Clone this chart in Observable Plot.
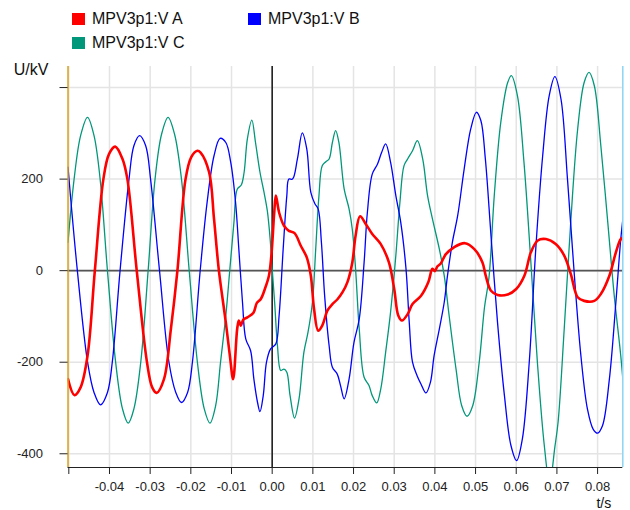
<!DOCTYPE html>
<html><head><meta charset="utf-8">
<script src="https://cdn.jsdelivr.net/npm/d3@7"></script>
<script src="https://cdn.jsdelivr.net/npm/@observablehq/plot@0.6"></script>
<style>
body{margin:0;background:#fff;font-family:"Liberation Sans",Arial,sans-serif;}
#wrap{position:relative;width:630px;height:510px;overflow:hidden;background:#fff}
#legend{position:relative;height:52px;width:630px}
.item{position:absolute;display:flex;align-items:center;height:18px;line-height:18px;font-size:16px;color:#111;white-space:nowrap}
.sw{width:13px;height:12px;margin-right:7px}
#chart svg{display:block}
</style></head>
<body><div id="wrap"><div id="legend"></div><div id="chart"></div></div>
<script>
// ---- data (time in s, voltage in kV) ----
const seriesNames = ["MPV3p1:V A", "MPV3p1:V B", "MPV3p1:V C"];
const seriesColors = ["#ff0000", "#0000ff", "#00977a"];

const phaseA = [
[-0.0502,-237],[-0.0486,-272],[-0.0471,-255],[-0.0454,-186],[-0.0436,0],[-0.0415,200],[-0.0401,255],[-0.0386,271],
[-0.0368,244],[-0.0356,200],[-0.0333,0],[-0.0308,-199],[-0.0295,-255],[-0.0284,-267],[-0.0266,-237],[-0.0249,-127],
[-0.0233,0],[-0.0213,200],[-0.0199,248],[-0.0184,262],[-0.0176,258],[-0.0155,215],[-0.0143,113],[-0.0131,0],
[-0.0114,-113],[-0.0104,-186],[-0.0096,-237],[-0.0086,-127],[-0.0082,-109],[-0.0077,-120],[-0.0071,-107],[-0.0061,-102],
[-0.0046,-92],[-0.0038,-71],[-0.0028,-62],[-0.0018,-40],[-0.0008,-11],[-0.0002,33],[0.0005,127],[0.0009,164],
[0.0017,127],[0.0029,98],[0.0041,87],[0.0055,82],[0.0070,55],[0.0085,29],[0.0095,-11],[0.0103,-84],
[0.0113,-131],[0.0123,-120],[0.0136,-87],[0.0148,-73],[0.0160,-63],[0.0173,-47],[0.0185,-25],[0.0197,18],
[0.0205,76],[0.0216,119],[0.0230,102],[0.0246,80],[0.0267,58],[0.0287,18],[0.0300,-40],[0.0310,-98],
[0.0319,-109],[0.0333,-95],[0.0345,-73],[0.0366,-55],[0.0384,-25],[0.0394,4],[0.0400,-1],[0.0406,9],
[0.0414,15],[0.0427,36],[0.0447,51],[0.0474,60],[0.0497,47],[0.0517,18],[0.0525,-11],[0.0538,-44],
[0.0554,-53],[0.0579,-52],[0.0600,-40],[0.0620,-11],[0.0636,40],[0.0653,66],[0.0673,69],[0.0697,58],
[0.0718,33],[0.0734,-7],[0.0751,-58],[0.0767,-66],[0.0792,-66],[0.0808,-51],[0.0829,-11],[0.0845,40],
[0.0857,69],[0.0864,73]
];

const phaseB = [
[-0.0502,226],[-0.0479,0],[-0.0454,-199],[-0.0438,-266],[-0.0422,-293],[-0.0405,-266],[-0.0393,-199],[-0.0374,0],
[-0.0352,200],[-0.0340,273],[-0.0326,295],[-0.0311,273],[-0.0299,200],[-0.0277,0],[-0.0254,-199],[-0.0237,-266],
[-0.0223,-288],[-0.0208,-266],[-0.0196,-199],[-0.0177,0],[-0.0160,149],[-0.0143,251],[-0.0128,289],[-0.0114,280],
[-0.0102,237],[-0.0090,149],[-0.0082,47],[-0.0073,-69],[-0.0065,-149],[-0.0053,-175],[-0.0045,-237],[-0.0036,-288],
[-0.0030,-308],[-0.0022,-273],[-0.0014,-200],[-0.0004,-171],[0.0009,-160],[0.0017,-98],[0.0027,47],[0.0036,164],
[0.0041,200],[0.0050,200],[0.0062,244],[0.0074,301],[0.0085,266],[0.0095,171],[0.0105,146],[0.0113,135],
[0.0121,62],[0.0129,-55],[0.0140,-164],[0.0148,-211],[0.0160,-226],[0.0168,-251],[0.0177,-280],[0.0189,-237],
[0.0201,-157],[0.0214,-106],[0.0226,18],[0.0234,127],[0.0246,211],[0.0259,233],[0.0269,258],[0.0279,277],
[0.0291,237],[0.0304,164],[0.0316,106],[0.0329,4],[0.0337,-113],[0.0345,-200],[0.0356,-229],[0.0366,-248],
[0.0378,-267],[0.0389,-244],[0.0398,-186],[0.0411,-127],[0.0423,-69],[0.0431,-11],[0.0443,62],[0.0456,120],
[0.0472,222],[0.0488,309],[0.0502,346],[0.0513,328],[0.0524,245],[0.0538,76],[0.0554,-113],[0.0571,-273],
[0.0587,-382],[0.0601,-415],[0.0615,-368],[0.0632,-200],[0.0648,47],[0.0665,251],[0.0681,382],[0.0695,424],
[0.0710,375],[0.0726,200],[0.0743,-11],[0.0759,-186],[0.0775,-302],[0.0789,-346],[0.0800,-355],[0.0812,-339],
[0.0829,-237],[0.0845,-69],[0.0857,69],[0.0864,127]
];

const phaseC = [
[-0.0502,62],[-0.0487,200],[-0.0471,295],[-0.0454,335],[-0.0438,295],[-0.0423,200],[-0.0405,0],[-0.0385,-199],
[-0.0368,-302],[-0.0354,-333],[-0.0340,-302],[-0.0323,-199],[-0.0305,0],[-0.0288,200],[-0.0272,298],[-0.0256,335],
[-0.0240,298],[-0.0223,200],[-0.0204,0],[-0.0184,-199],[-0.0167,-302],[-0.0153,-333],[-0.0139,-295],[-0.0127,-200],
[-0.0114,-98],[-0.0104,4],[-0.0094,106],[-0.0086,178],[-0.0076,187],[-0.0069,215],[-0.0061,288],[-0.0050,329],
[-0.0041,280],[-0.0030,215],[-0.0020,171],[-0.0012,131],[-0.0005,69],[0.0000,4],[0.0006,-69],[0.0013,-164],
[0.0021,-218],[0.0029,-215],[0.0036,-222],[0.0044,-273],[0.0055,-322],[0.0066,-280],[0.0078,-178],[0.0088,-135],
[0.0099,-69],[0.0107,47],[0.0115,164],[0.0123,229],[0.0132,238],[0.0140,244],[0.0148,280],[0.0156,306],
[0.0164,280],[0.0177,178],[0.0189,135],[0.0197,90],[0.0205,4],[0.0214,-127],[0.0226,-233],[0.0238,-251],
[0.0246,-273],[0.0257,-289],[0.0267,-258],[0.0279,-178],[0.0291,-91],[0.0304,33],[0.0314,149],[0.0324,229],
[0.0333,244],[0.0345,262],[0.0357,284],[0.0370,244],[0.0382,164],[0.0394,113],[0.0411,47],[0.0423,-11],
[0.0435,-98],[0.0452,-215],[0.0466,-295],[0.0479,-318],[0.0493,-295],[0.0509,-200],[0.0522,-80],[0.0533,-15],
[0.0546,164],[0.0562,324],[0.0579,411],[0.0588,426],[0.0603,382],[0.0619,237],[0.0636,18],[0.0652,-200],
[0.0669,-382],[0.0682,-465],[0.0695,-385],[0.0703,-330],[0.0718,-127],[0.0734,106],[0.0751,309],[0.0767,411],
[0.0779,433],[0.0792,404],[0.0808,273],[0.0825,106],[0.0841,-55],[0.0857,-186],[0.0864,-258]
];

const xDomain = [-0.0502, 0.0862];
const yDomain = [-430, 446];
const xTicks = [-0.05,-0.04,-0.03,-0.02,-0.01,0,0.01,0.02,0.03,0.04,0.05,0.06,0.07,0.08];
const xTickLabels = ["","-0.04","-0.03","-0.02","-0.01","0.00","0.01","0.02","0.03","0.04","0.05","0.06","0.07","0.08"];
const yTicks = [-400,-200,0,200,400];
const yTickLabels = ["-400","-200","0","200",""];
const yTitle = "U/kV";
const xTitle = "t/s";

// ---- legend ----
const legend = document.getElementById("legend");
const legendPos = [[72,10],[248,10],[72,34]];
seriesNames.forEach((n,i)=>{
  const it = document.createElement("div");
  it.className = "item";
  it.style.left = legendPos[i][0] + "px";
  it.style.top = legendPos[i][1] + "px";
  const sw = document.createElement("span");
  sw.className = "sw";
  sw.style.background = seriesColors[i];
  const tx = document.createElement("span");
  tx.textContent = n;
  it.appendChild(sw); it.appendChild(tx);
  legend.appendChild(it);
});

const toRows = arr => arr.map(([t,v]) => ({t, v}));

const chart = Plot.plot({
  width: 630, height: 458,
  marginLeft: 67.5, marginRight: 7.7, marginTop: 14, marginBottom: 43,
  x: {domain: xDomain},
  y: {domain: yDomain},
  style: {fontFamily: '"Liberation Sans", Arial, sans-serif', fontSize: "13px", color: "#222", background: "#fff", overflow: "visible"},
  marks: [
    Plot.gridX({ticks: xTicks, stroke: "#e4e4e4", strokeOpacity: 1, strokeWidth: 1.5}),
    Plot.gridY({ticks: yTicks, stroke: "#e4e4e4", strokeOpacity: 1, strokeWidth: 1.5}),
    Plot.ruleY([0], {stroke: "#555", strokeWidth: 1.6}),
    Plot.ruleX([0], {stroke: "#222", strokeWidth: 1.6}),
    Plot.line(toRows(phaseC), {x: "t", y: "v", stroke: seriesColors[2], strokeWidth: 1.3, curve: "catmull-rom", clip: true}),
    Plot.line(toRows(phaseB), {x: "t", y: "v", stroke: seriesColors[1], strokeWidth: 1.3, curve: "catmull-rom", clip: true}),
    Plot.line(toRows(phaseA), {x: "t", y: "v", stroke: seriesColors[0], strokeWidth: 2.6, curve: "catmull-rom", clip: true}),
    Plot.ruleX([xDomain[0]], {stroke: "#d9a21b", strokeWidth: 1.5}),
    Plot.ruleX([xDomain[1]], {stroke: "#8ad6f5", strokeWidth: 1.5}),
    Plot.ruleY([yDomain[0]], {stroke: "#222", strokeWidth: 1}),
    Plot.axisX({ticks: xTicks, tickFormat: d => xTickLabels[xTicks.indexOf(d)], tickSize: 7, tickPadding: 7, label: null, stroke: "#222"}),
    Plot.axisY({ticks: yTicks, tickFormat: d => yTickLabels[yTicks.indexOf(d)], tickSize: 8, tickPadding: 17, label: null, stroke: "#222"}),
    Plot.text([yTitle], {text: d => d, frameAnchor: "top-left", dx: -37, dy: -3, fontSize: 16, textAnchor: "middle", fill: "#111"}),
    Plot.text([xTitle], {text: d => d, frameAnchor: "bottom-right", dx: -19, dy: 40, fontSize: 14, textAnchor: "middle", lineAnchor: "bottom", fill: "#111"})
  ]
});
document.getElementById("chart").appendChild(chart);
</script>
</body></html>
